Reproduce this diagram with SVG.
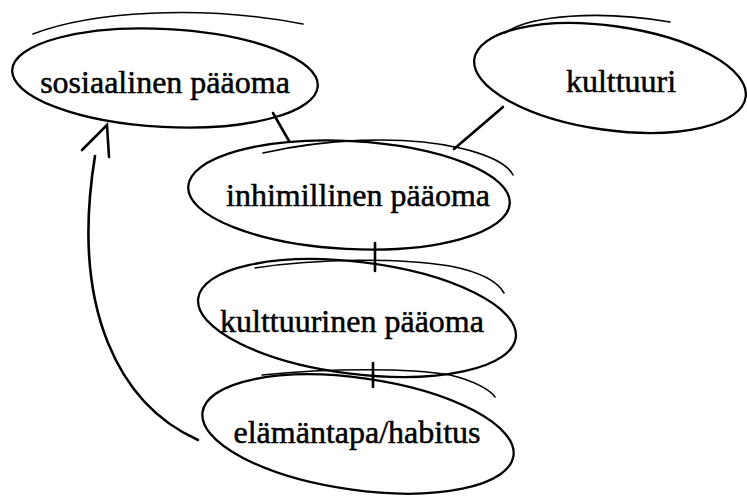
<svg xmlns="http://www.w3.org/2000/svg" width="747" height="497" viewBox="0 0 747 497">
<style>
.shape{fill:none;stroke:#000;stroke-width:2.3;stroke-linecap:round;stroke-linejoin:round}
.sw{fill:none;stroke:#000;stroke-width:1.6;stroke-linecap:round}
.lbl{font-family:"Liberation Serif","Times New Roman",serif;font-size:32px;fill:#000;stroke:#000;stroke-width:0.5;text-anchor:middle}
.edge{fill:none;stroke:#000;stroke-width:2.6;stroke-linecap:round}
</style>
<rect width="747" height="497" fill="#fff"/>
<g id="connectors">
<path class="edge" d="M273,113 L289,141"/>
<path class="edge" d="M503,107 L454,149"/>
<path class="edge" d="M375,243 L375,271"/>
<path class="edge" d="M373,363 L373,387"/>
<path class="edge" d="M198,440 C120,405 70,310 95,156"/>
<path class="edge" d="M82,150 L107,125 L109,157"/>
</g>
<g id="n-sosiaalinen">
<ellipse class="shape" cx="165" cy="78" rx="153" ry="49" transform="rotate(3 165 78)"/>
<path class="sw" d="M33,34 C90,12 200,4 303,24"/>
<text class="lbl" x="165" y="93">sosiaalinen pääoma</text>
</g>
<g id="n-kulttuuri">
<ellipse class="shape" cx="610" cy="78" rx="137" ry="52" transform="rotate(8 610 78)"/>
<path class="sw" d="M505,33 C530,15 600,10 670,22"/>
<text class="lbl" x="621" y="92">kulttuuri</text>
</g>
<g id="n-inhimillinen">
<ellipse class="shape" cx="349" cy="195" rx="161" ry="54" transform="rotate(3 349 195)"/>
<path class="sw" d="M263,153 C320,140 400,134 460,148 C490,155 508,165 513,175"/>
<text class="lbl" x="358" y="206">inhimillinen pääoma</text>
</g>
<g id="n-kulttuurinen">
<ellipse class="shape" cx="357" cy="318" rx="160" ry="56" transform="rotate(7 357 318)"/>
<path class="sw" d="M255,268 C320,258 400,258 450,266 C480,272 498,282 504,293"/>
<text class="lbl" x="352" y="332">kulttuurinen pääoma</text>
</g>
<g id="n-elamantapa">
<ellipse class="shape" cx="358" cy="434" rx="157" ry="56" transform="rotate(8 358 434)"/>
<path class="sw" d="M262,375 C330,368 410,368 450,375 C475,381 490,390 495,397"/>
<text class="lbl" x="357" y="443">elämäntapa/habitus</text>
</g>
</svg>
